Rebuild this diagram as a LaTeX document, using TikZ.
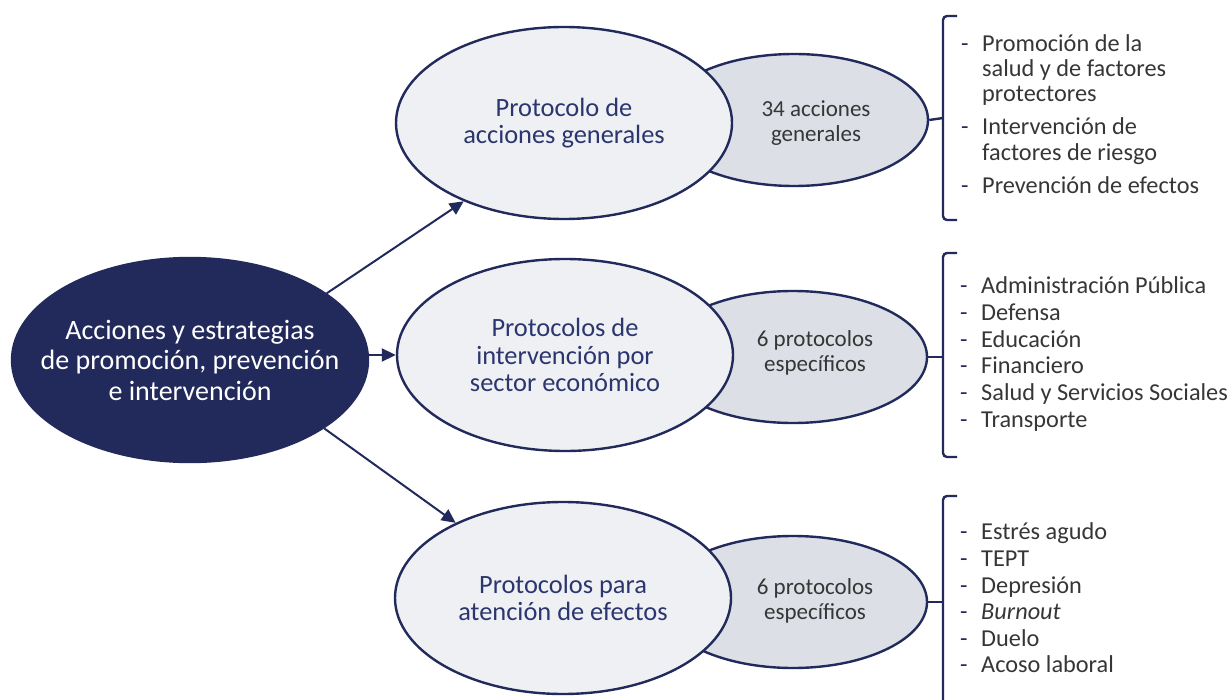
\documentclass[tikz,border=0pt]{standalone}
\usepackage{fontspec}
\setmainfont{Carlito}
\usetikzlibrary{shapes.geometric,arrows.meta}
\definecolor{navy}{HTML}{222A5C}
\definecolor{protfill}{HTML}{EEF0F3}
\definecolor{sidefill}{HTML}{DCDFE6}
\definecolor{prottext}{HTML}{2B356E}
\definecolor{darktext}{HTML}{363636}
\newcommand{\dashitem}[1]{\makebox[21pt][l]{\textcolor{navy}{-}}#1}
\newcommand{\dashcont}[1]{\hspace*{21pt}#1}
\begin{document}
\begin{tikzpicture}[x=1pt,y=-1pt,
  hub/.style={ellipse, draw=navy, line width=2.4pt, fill=navy, text=white, minimum width=356pt, minimum height=204pt, inner xsep=-40pt, inner ysep=0pt, align=center, font=\fontsize{28}{30.5}\selectfont},
  prot/.style={ellipse, draw=navy, line width=2.4pt, fill=protfill, text=prottext, minimum width=336pt, minimum height=192pt, inner sep=0pt, align=center, font=\fontsize{26.4}{27.7}\selectfont},
  side/.style={ellipse, draw=navy, line width=2.4pt, fill=sidefill, minimum width=268pt, minimum height=132pt, inner sep=0pt},
  count/.style={text=darktext, align=center, font=\fontsize{23}{25.5}\selectfont},
  items/.style={anchor=west, text=darktext, inner sep=0pt, align=left},
  link/.style={draw=navy, line width=2pt, -{Triangle[length=14pt,width=13pt]}},
  brc/.style={draw=navy, line width=2.4pt, rounded corners=4pt}]
\useasboundingbox (0,0) rectangle (1230,700);
\node[side] (s1) at (794,120) {};
\node[side] (s2) at (793,357) {};
\node[side] (s3) at (793,602) {};
\node[count] (n1) at (816,123) {34 acciones\\generales};
\node[count] (n2) at (815,353) {6 protocolos\\específicos};
\node[count] (n3) at (815,601) {6 protocolos\\específicos};
\node[prot] (p1) at (564,123) {Protocolo de\\acciones generales};
\node[prot] (p2) at (565,355) {Protocolos de\\intervención por\\sector económico};
\node[prot] (p3) at (563,598) {Protocolos para\\atención de efectos};
\node[hub] (main) at (190,360) {Acciones y estrategias\\de promoción, prevención\\e intervención};
\draw[link] (main.26) -- (p1.218);
\draw[link] (main.east |- p2.west) -- (p2.west);
\draw[link] (main.-27) -- (p3.145);
\draw[brc] (957,16) -- (943,16) -- (943,220) -- (957,220);
\draw[brc] (943,118) -- (s1.east);
\draw[brc] (957,253) -- (943,253) -- (943,457) -- (957,457);
\draw[brc] (943,357) -- (s2.east);
\draw[brc] (957,496) -- (943,496) -- (943,720);
\draw[brc] (943,602) -- (s3.east);
\node[items, font=\fontsize{24.3}{25.3}\selectfont] (l1) at (961,114) {\dashitem{Promoción de la}\\\dashcont{salud y de factores}\\\dashcont{protectores}\\[8pt]\dashitem{Intervención de}\\\dashcont{factores de riesgo}\\[8pt]\dashitem{Prevención de efectos}};
\node[items, font=\fontsize{24.3}{26.8}\selectfont] (l2) at (960,354) {\dashitem{Administración Pública}\\\dashitem{Defensa}\\\dashitem{Educación}\\\dashitem{Financiero}\\\dashitem{Salud y Servicios Sociales}\\\dashitem{Transporte}};
\node[items, font=\fontsize{24.3}{26.6}\selectfont] (l3) at (960,598) {\dashitem{Estrés agudo}\\\dashitem{TEPT}\\\dashitem{Depresión}\\\dashitem{\textit{Burnout}}\\\dashitem{Duelo}\\\dashitem{Acoso laboral}};
\end{tikzpicture}
\end{document}
